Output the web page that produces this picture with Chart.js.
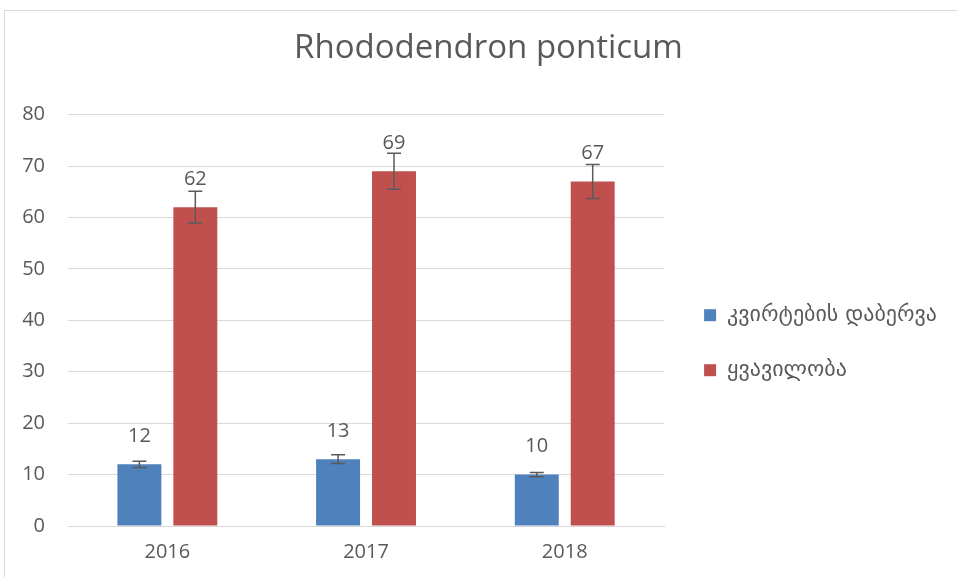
<!DOCTYPE html>
<html>
<head>
<meta charset="utf-8">
<script src="https://cdn.jsdelivr.net/npm/chart.js@4"></script>
<style>
  html, body { margin: 0; padding: 0; background: #fff; overflow: hidden; }
  #wrap { position: absolute; left: 4px; top: 10px; width: 970px; height: 568px; border: 1px solid #d9d9d9; background: #fff; }
</style>
</head>
<body>
<div id="wrap"><canvas id="chart" width="970" height="568"></canvas></div>
<script>
// data
var years = ["2016", "2017", "2018"];
var budBurst = [12, 13, 10];
var budBurstErr = [0.6, 0.85, 0.4];
var flowering = [62, 69, 67];
var floweringErr = [3.1, 3.5, 3.3];
var seriesNames = ["კვირტების დაბერვა", "ყვავილობა"];
var yTicks = [0, 10, 20, 30, 40, 50, 60, 70, 80];

var textColor = "#595959";
var fontFamily = "'Open Sans', 'DejaVu Sans', sans-serif";

//error bars + value labels
var errorBars = {
	id: "errorBars",
	afterDatasetsDraw: function(chart) {
		var ctx = chart.ctx;
		var y = chart.scales.y;
		chart.data.datasets.forEach(function(ds, i) {
			var meta = chart.getDatasetMeta(i);
			meta.data.forEach(function(bar, j) {
				var v = ds.data[j], e = ds.errors[j];
				var top = y.getPixelForValue(v + e), bot = y.getPixelForValue(v - e);
				ctx.save();
				ctx.strokeStyle = "#5a5a5a";
				ctx.lineWidth = 1.5;
				ctx.beginPath();
				ctx.moveTo(bar.x, top); ctx.lineTo(bar.x, bot);
				ctx.moveTo(bar.x - 7, top); ctx.lineTo(bar.x + 7, top);
				ctx.moveTo(bar.x - 7, bot); ctx.lineTo(bar.x + 7, bot);
				ctx.stroke();
				ctx.fillStyle = textColor;
				ctx.font = "20px " + fontFamily;
				ctx.textAlign = "center";
				ctx.textBaseline = "middle";
				ctx.fillText(String(v), bar.x, bar.y - 28);
				ctx.restore();
			});
		});
	}
};

// title is centred on the whole chart frame, which runs past the right edge
var titleShift = {
	id: "titleShift",
	afterLayout: function(chart) {
		var t = chart.titleBlock;
		if (t) { t.right += 25; t.width += 25; }
	}
};

new Chart(document.getElementById("chart"), {
	type: "bar",
	data: {
		labels: years,
		datasets: [{
			label: seriesNames[0],
			data: budBurst,
			errors: budBurstErr,
			backgroundColor: "#4f81bd"
		}, {
			label: seriesNames[1],
			data: flowering,
			errors: floweringErr,
			backgroundColor: "#c0504d"
		}]
	},
	options: {
		responsive: false,
		animation: false,
		categoryPercentage: 0.563,
		barPercentage: 0.786,
		layout: { padding: { left: 0, right: 28, top: 8, bottom: 1 } },
		plugins: {
			title: {
				display: true,
				text: "Rhododendron ponticum",
				color: textColor,
				font: { family: fontFamily, size: 33, weight: "normal" },
				padding: { top: 10, bottom: 46 }
			},
			legend: {
				position: "right",
				align: "start",
				maxWidth: 340,
				title: { display: true, text: " ", font: { size: 1 }, padding: { top: 251, bottom: 0 } },
				labels: {
					color: textColor,
					font: { family: "'DejaVu Sans', sans-serif", size: 22 },
					boxWidth: 12,
					boxHeight: 12,
					padding: 33
				}
			},
			tooltip: { enabled: false }
		},
		scales: {
			x: {
				grid: { display: false, drawTicks: false },
				border: { color: "#d9d9d9" },
				ticks: { color: textColor, font: { family: fontFamily, size: 20 }, padding: 14 }
			},
			y: {
				min: 0,
				max: 80,
				afterBuildTicks: function(axis) {
					axis.ticks = yTicks.map(function(v) { return { value: v }; });
				},
				afterFit: function(axis) { axis.width = 63; },
				grid: { color: "#d9d9d9", drawTicks: false },
				border: { display: false },
				ticks: { color: textColor, font: { family: fontFamily, size: 20 }, padding: 23 }
			},
			gap: {
				position: "right",
				grid: { display: false },
				border: { display: false },
				ticks: { display: false },
				afterFit: function(axis) { axis.width = 7; }
			}
		}
	},
	plugins: [errorBars, titleShift]
});
</script>
</body>
</html>
